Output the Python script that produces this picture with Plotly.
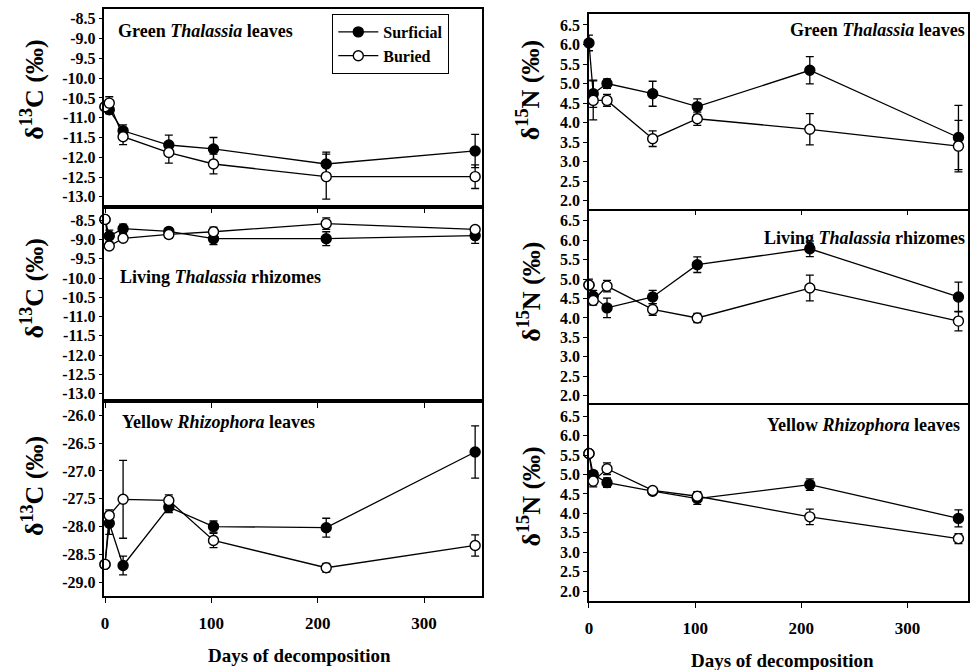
import plotly.graph_objects as go

# ---------------- data ----------------
days = [0, 4, 17, 60, 102, 208, 348]

c13_leaves_surf = [-10.72, -10.80, -11.33, -11.69, -11.79, -12.17, -11.84]
c13_leaves_surf_err = [0.0, 0.10, 0.15, 0.25, 0.29, 0.30, 0.42]
c13_leaves_bur = [-10.72, -10.63, -11.48, -11.88, -12.17, -12.49, -12.49]
c13_leaves_bur_err = [0.10, 0.16, 0.20, 0.27, 0.25, 0.57, 0.30]

c13_rhiz_surf = [-8.48, -8.91, -8.72, -8.79, -8.98, -8.98, -8.90]
c13_rhiz_surf_err = [0.0, 0.15, 0.12, 0.08, 0.15, 0.18, 0.20]
c13_rhiz_bur = [-8.48, -9.17, -8.97, -8.87, -8.80, -8.59, -8.74]
c13_rhiz_bur_err = [0.0, 0.08, 0.08, 0.10, 0.12, 0.15, 0.05]

c13_rhizo_surf = [-28.68, -27.94, -28.70, -27.65, -28.00, -28.02, -26.66]
c13_rhizo_surf_err = [0.0, 0.20, 0.17, 0.10, 0.10, 0.17, 0.47]
c13_rhizo_bur = [-28.68, -27.80, -27.51, -27.53, -28.25, -28.74, -28.34]
c13_rhizo_bur_err = [0.0, 0.10, 0.70, 0.10, 0.13, 0.08, 0.19]

n15_leaves_surf = [6.04, 4.74, 5.00, 4.74, 4.41, 5.34, 3.62]
n15_leaves_surf_err = [0.20, 0.35, 0.12, 0.32, 0.20, 0.35, 0.82]
n15_leaves_bur = [None, 4.57, 4.57, 3.59, 4.10, 3.83, 3.40]
n15_leaves_bur_err = [0.0, 0.50, 0.15, 0.20, 0.17, 0.40, 0.66]

n15_rhiz_surf = [4.85, 4.56, 4.26, 4.54, 5.37, 5.78, 4.54]
n15_rhiz_surf_err = [0.0, 0.15, 0.25, 0.17, 0.20, 0.20, 0.38]
n15_rhiz_bur = [4.85, 4.45, 4.82, 4.22, 4.00, 4.77, 3.92]
n15_rhiz_bur_err = [0.15, 0.12, 0.15, 0.15, 0.12, 0.33, 0.25]

n15_rhizo_surf = [5.54, 5.00, 4.79, 4.57, 4.38, 4.74, 3.87]
n15_rhizo_surf_err = [0.0, 0.10, 0.12, 0.07, 0.15, 0.15, 0.22]
n15_rhizo_bur = [5.54, 4.83, 5.15, 4.59, 4.44, 3.91, 3.35]
n15_rhizo_bur_err = [0.0, 0.15, 0.15, 0.07, 0.12, 0.20, 0.13]

panel_titles = ["Green <i>Thalassia</i> leaves", "Living <i>Thalassia</i> rhizomes",
                "Yellow <i>Rhizophora</i> leaves", "Green <i>Thalassia</i> leaves",
                "Living <i>Thalassia</i> rhizomes", "Yellow <i>Rhizophora</i> leaves"]
series_names = ["Surficial", "Buried"]
x_ticks = [0, 100, 200, 300]
c13_ticks_a = [-8.5, -9.0, -9.5, -10.0, -10.5, -11.0, -11.5, -12.0, -12.5, -13.0]
c13_ticks_b = [-26.0, -26.5, -27.0, -27.5, -28.0, -28.5, -29.0]
n15_ticks = [6.5, 6.0, 5.5, 5.0, 4.5, 4.0, 3.5, 3.0, 2.5, 2.0]
x_title = "Days of decomposition"
c13_title = "δ<sup>13</sup>C (‰)"
n15_title = "δ<sup>15</sup>N (‰)"

# ---------------- layout helpers ----------------
W, H = 970, 670
def px(x):
    return x / W
def py(y):
    return 1 - y / H

FONT = "Liberation Serif"

panels = [
    # (surf, surf_err, bur, bur_err, ticks, yrange, xdom_px, ydom_px, xrange)
    (c13_leaves_surf, c13_leaves_surf_err, c13_leaves_bur, c13_leaves_bur_err,
     c13_ticks_a, [-13.25, -8.25], (101, 480), (9, 207), [-0.5, 354]),
    (c13_rhiz_surf, c13_rhiz_surf_err, c13_rhiz_bur, c13_rhiz_bur_err,
     c13_ticks_a, [-13.2, -8.15], (101, 480), (207, 402), [-0.5, 354]),
    (c13_rhizo_surf, c13_rhizo_surf_err, c13_rhizo_bur, c13_rhizo_bur_err,
     c13_ticks_b, [-29.25, -25.75], (101, 480), (402, 597), [-0.5, 354]),
    (n15_leaves_surf, n15_leaves_surf_err, n15_leaves_bur, n15_leaves_bur_err,
     n15_ticks, [1.8, 6.78], (588, 969), (14, 209), [0, 357]),
    (n15_rhiz_surf, n15_rhiz_surf_err, n15_rhiz_bur, n15_rhiz_bur_err,
     n15_ticks, [1.7, 6.76], (588, 969), (211, 408), [0, 357]),
    (n15_rhizo_surf, n15_rhizo_surf_err, n15_rhizo_bur, n15_rhizo_bur_err,
     n15_ticks, [1.74, 6.78], (588, 969), (406, 602), [0, 357]),
]

fig = go.Figure()
layout = dict(width=W, height=H, margin=dict(l=0, r=0, t=0, b=0),
              paper_bgcolor="white", plot_bgcolor="white", showlegend=True)

for i, (s, se, b, be, yt, yr, xd, yd, xr) in enumerate(panels):
    n = i + 1
    xa = "x" if n == 1 else f"x{n}"
    ya = "y" if n == 1 else f"y{n}"
    for name, vals, errs, fill in ((series_names[0], s, se, "black"),
                                   (series_names[1], b, be, "white")):
        fig.add_trace(go.Scatter(
            x=days, y=vals, mode="lines+markers", name=name,
            xaxis=xa, yaxis=ya, showlegend=(n == 1),
            line=dict(color="black", width=1.3),
            marker=dict(symbol="circle", size=10, color=fill,
                        line=dict(color="black", width=1.4)),
            error_y=dict(type="data", array=errs, visible=True,
                         color="black", thickness=1.3, width=4),
            cliponaxis=False,
        ))
    bottom = n in (3, 6)
    xkey = "xaxis" if n == 1 else f"xaxis{n}"
    ykey = "yaxis" if n == 1 else f"yaxis{n}"
    layout[xkey] = dict(
        domain=[px(xd[0]), px(xd[1])], anchor=ya, range=xr,
        tickvals=x_ticks, showticklabels=bottom,
        ticks="outside", ticklen=5, tickwidth=1.2, tickcolor="black",
        ticklabelstandoff=6,
        showline=True, linecolor="black", linewidth=1.5, mirror=True,
        showgrid=False, zeroline=False,
        tickfont=dict(family=FONT, size=17, color="black", weight="bold"),
    )
    layout[ykey] = dict(
        domain=[py(yd[1]), py(yd[0])], anchor=xa, range=yr,
        tickvals=yt, ticktext=[f"{v:.1f}" for v in yt],
        ticks="outside", ticklen=4, tickwidth=1.2, tickcolor="black",
        showline=True, linecolor="black", linewidth=1.5, mirror=True,
        showgrid=False, zeroline=False,
        tickfont=dict(family=FONT, size=16, color="black", weight="bold"),
    )

annotations = []
# panel labels
label_pos = [(113, 31, "left"), (115, 277, "left"), (117, 423, "left"),
             (968, 30, "right"), (968, 238, "right"), (963, 426, "right")]
for (x, y, anc), txt in zip(label_pos, panel_titles):
    annotations.append(dict(x=px(x), y=py(y), xref="paper", yref="paper",
                            text=f"<b>{txt}</b>", showarrow=False, xanchor=anc,
                            yanchor="middle",
                            font=dict(family=FONT, size=18, color="black")))
# y titles
ytitle_pos = [(29, 90, c13_title), (29, 289, c13_title), (29, 487, c13_title),
              (528, 90, n15_title), (528, 292, n15_title), (528, 497, n15_title)]
for x, y, txt in ytitle_pos:
    annotations.append(dict(x=px(x), y=py(y), xref="paper", yref="paper",
                            text=f"<b>{txt}</b>", showarrow=False, textangle=-90,
                            xanchor="center", yanchor="middle",
                            font=dict(family=FONT, size=26, color="black")))
# x titles
for x, y in ((297, 656), (783, 661)):
    annotations.append(dict(x=px(x), y=py(y), xref="paper", yref="paper",
                            text=f"<b>{x_title}</b>", showarrow=False,
                            xanchor="center", yanchor="middle",
                            font=dict(family=FONT, size=19, color="black")))

layout["annotations"] = annotations
layout["legend"] = dict(x=px(330), y=py(14), xanchor="left", yanchor="top",
                        bordercolor="black", borderwidth=1, bgcolor="white",
                        font=dict(family=FONT, size=16, color="black", weight="bold"),
                        itemwidth=40, tracegroupgap=0)
fig.update_layout(**layout)

fig.write_html("out.html", config={"displayModeBar": False},
               post_script="document.body.style.margin='0';document.body.style.overflow='hidden';")
